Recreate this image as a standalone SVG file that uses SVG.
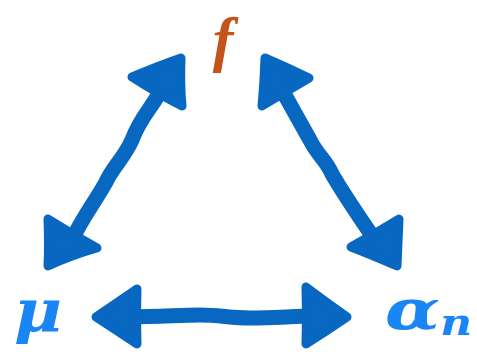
<svg xmlns="http://www.w3.org/2000/svg" width="477" height="352" viewBox="0 0 477 352">
<style>
.shaft{fill:none;stroke:#0767C1;stroke-width:15;stroke-linecap:round;stroke-linejoin:round}
.head{fill:#0767C1;stroke:#0767C1;stroke-width:9;stroke-linejoin:round}
.lbl{font-family:"DejaVu Serif","Liberation Serif",serif;font-style:italic;font-weight:bold;fill:#1A85F5}
</style>
<rect width="477" height="352" fill="#fff"/>
<g id="connectors">
<g id="edge-f-mu">
<path class="shaft" d="M160,92 C150,110 140,118 132,140 C124,158 112,168 106,182 C95,202 82,218 72,240"/>
<path class="head" d="M181,58 Q158,66 132,77 Q160,95 182,106 Q180,84 181,58 Z"/>
<path class="head" d="M48,219 Q49,244 48,266 Q72,255 97,248 Q72,234 48,219 Z"/>
</g>
<g id="edge-f-alpha">
<path class="shaft" d="M282,90 C292,108 300,122 310,140 C318,156 326,160 332,174 C346,198 360,218 375,240"/>
<path class="head" d="M265,58 Q264,84 262,106 Q285,92 309,78 Q288,68 265,58 Z"/>
<path class="head" d="M399,219 Q398,244 397,266 Q372,255 351,247 Q376,233 399,219 Z"/>
</g>
<g id="edge-mu-alpha">
<path class="shaft" d="M130,317 C160,317 180,315 200,315 C220,315 230,318 250,318 C275,318 295,316 315,316"/>
<path class="head" d="M96,317 Q118,302 137,289 Q136,316 137,344 Q116,330 96,317 Z"/>
<path class="head" d="M347,317 Q326,302 306,287 Q307,316 306,344 Q328,330 347,317 Z"/>
</g>
</g>
<g id="node-f"><text x="223" y="60" font-size="62" fill="#C4531C" text-anchor="middle" style="font-family:'Liberation Serif',serif;font-style:italic;font-weight:bold">f</text></g>
<g id="node-mu"><text class="lbl" x="14" y="332" font-size="60" textLength="48" lengthAdjust="spacingAndGlyphs">μ</text></g>
<g id="node-alpha"><text class="lbl" x="385" y="329" font-size="56" textLength="55" lengthAdjust="spacingAndGlyphs">α</text><text class="lbl" x="440" y="335" font-size="38" textLength="32" lengthAdjust="spacingAndGlyphs">n</text></g>
</svg>
